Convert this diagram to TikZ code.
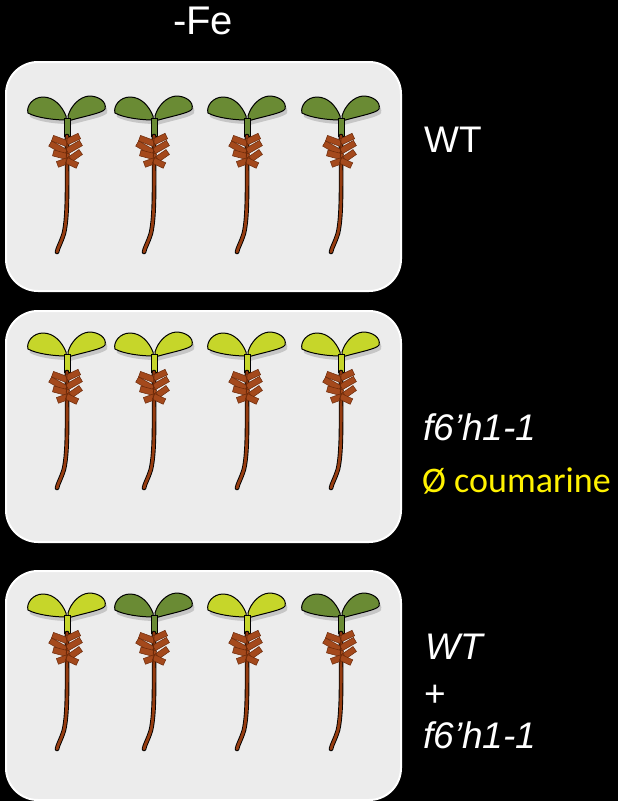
\documentclass[tikz,border=0pt]{standalone}
\usepackage{fontspec}
\setmainfont{Liberation Sans}
\newfontfamily\carlito{Carlito}
\usetikzlibrary{shadows}

\definecolor{leafdark}{HTML}{6A8B34}
\definecolor{leaflight}{HTML}{C6D62A}
\definecolor{rootbrown}{HTML}{963C10}
\definecolor{hairbrown}{HTML}{A4491C}
\definecolor{hairshade}{HTML}{6A2808}
\definecolor{platebg}{HTML}{ECECEC}

\tikzstyle{plate} = [
    rectangle,
    rounded corners=32pt,
    minimum width=395pt,
    minimum height=229pt,
    anchor=north west,
    fill=platebg,
    draw=white,
    line width=2pt
]
\tikzstyle{genotype} = [
    anchor=base west,
    inner sep=0pt,
    text=white,
    font=\fontsize{37}{40}\selectfont
]
\tikzstyle{leaf} = [
    draw=black,
    line width=1pt,
    drop shadow={shadow xshift=2pt, shadow yshift=-4pt, opacity=.35}
]
\tikzstyle{hair} = [fill=hairbrown, draw=hairshade, line width=.5pt]

% one seedling, origin where the two cotyledons meet
\tikzset{
  pics/seedling/.style={code={
    % cotyledons
    \path[leaf, fill=#1] (-1,1) .. controls (-5,-9) and (-13,-18) .. (-24,-18)
        .. controls (-34,-18) and (-41,-9) .. (-39,-2)
        .. controls (-30,3) and (-12,5) .. (-1,5) -- cycle;
    \path[leaf, fill=#1] (1,1) .. controls (4,-9) and (12,-18) .. (22,-19)
        .. controls (32,-19) and (40,-13) .. (38,-6)
        .. controls (36,-2) and (18,1) .. (1,6) -- cycle;
    % hypocotyl
    \draw[fill=#1, line width=.8pt] (-3,3) rectangle (3,21);
    % main root
    \draw[line width=4.6pt, line cap=round] (0,21) .. controls (0,70) and (1,100)
        .. (-3,118) .. controls (-6,128) and (-9,132) .. (-10,137);
    \draw[rootbrown, line width=2.8pt, line cap=round] (0,21) .. controls (0,70) and (1,100)
        .. (-3,118) .. controls (-6,128) and (-9,132) .. (-10,137);
    % root hairs
    \foreach \cx/\cy/\a/\w in {-7/26/-20/16, 6/24/25/14, -9/33/-30/18, 7/32/30/16,
                               -6/40/-15/16, 8/41/35/14, -3/47/20/14, 5/48/-25/12} {
      \draw[hair, rotate around={\a:(\cx,\cy)}] (\cx-\w/2,\cy-3) rectangle (\cx+\w/2,\cy+3);
    }
    \draw[hairshade, line width=.8pt] (0,22) -- (-1,52);
  }}
}

\begin{document}
\begin{tikzpicture}[x=1pt, y=-1pt]

\fill[black] (0,0) rectangle (618,801);
\useasboundingbox (0,0) rectangle (618,801);

\node (fe) [genotype, anchor=base, font=\fontsize{40}{44}\selectfont] at (203,34) {-Fe};

\node (platewt) [plate] at (5,61) {};
\node (platemut) [plate, minimum height=231pt] at (5,310) {};
\node (platemix) [plate] at (5,570) {};

\foreach \x in {67,154,247,341} {
  \pic at (\x,115) {seedling=leafdark};
  \pic at (\x,351) {seedling=leaflight};
}
\foreach \x/\c in {67/leaflight, 154/leafdark, 247/leaflight, 341/leafdark} {
  \pic at (\x,612) {seedling=\c};
}

\node (wt) [genotype] at (424,152) {WT};

\node (mut) [genotype, font=\fontsize{37}{40}\selectfont\itshape] at (423,440) {f6’h1-1};
\node (nocou) [genotype, text=yellow, font=\fontsize{36}{40}\selectfont\carlito] at (422,492) {Ø coumarine};

\node (mixwt) [genotype, font=\fontsize{37}{40}\selectfont\itshape] at (425,659) {WT};
\node (plus) [genotype] at (424,706) {+};
\node (mixmut) [genotype, font=\fontsize{37}{40}\selectfont\itshape] at (423,748) {f6’h1-1};

\end{tikzpicture}
\end{document}
